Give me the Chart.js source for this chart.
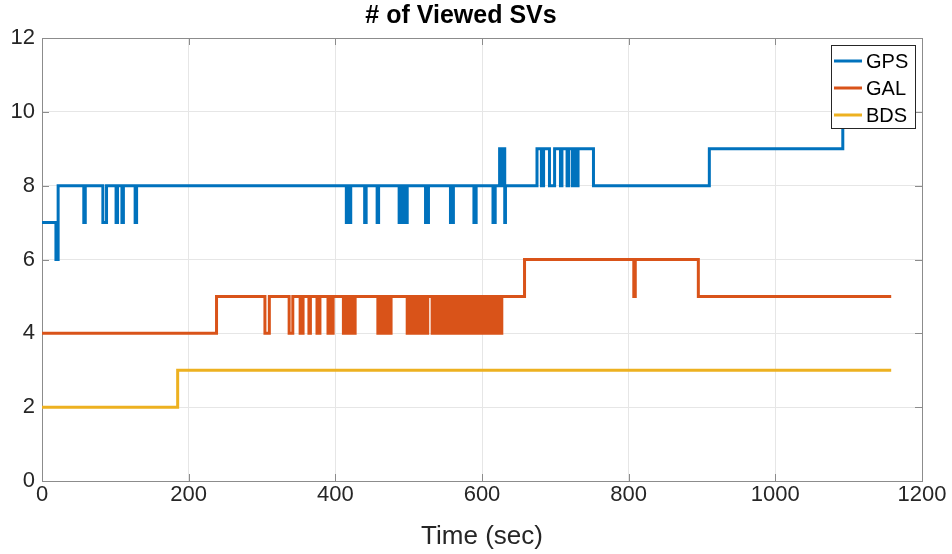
<!DOCTYPE html>
<html>
<head>
<meta charset="utf-8">
<script src="https://cdn.jsdelivr.net/npm/chart.js@4.4.1/dist/chart.umd.min.js"></script>
<style>
  html, body { margin: 0; padding: 0; background: #ffffff; }
  #wrap { width: 952px; height: 554px; position: relative; }
</style>
</head>
<body>
<div id="wrap"><canvas id="chart"></canvas></div>
<script>
// Satellite counts per constellation, stored as change points:
// each entry is the time (sec) at which the count switches to the paired value.
const seriesNames = ['GPS', 'GAL', 'BDS'];
const seriesColors = ['#0072BD', '#D95319', '#EDB120'];

const gpsTimes = [0, 19, 22, 57, 59, 83, 88, 101, 103, 109, 111, 127, 129,
  415, 417, 419, 421, 440, 442, 457, 459, 487, 489, 491, 493, 495, 498,
  523, 524, 526, 527, 557, 558, 560, 561, 589, 590, 591, 592, 615, 616, 617, 618,
  624, 626, 629, 631, 632,
  675, 681, 684, 692, 699, 707, 709, 716, 718, 723, 725, 729, 731, 752,
  910, 1092, 1158];
const gpsCounts = [7, 6, 8, 7, 8, 7, 8, 7, 8, 7, 8, 7, 8,
  7, 8, 7, 8, 7, 8, 7, 8, 7, 8, 7, 8, 7, 8,
  7, 8, 7, 8, 7, 8, 7, 8, 7, 8, 7, 8, 7, 8, 7, 8,
  9, 8, 9, 7, 8,
  9, 8, 9, 8, 9, 8, 9, 8, 9, 8, 9, 8, 9, 8,
  9, 10, 10];

const galTimes = [0, 238, 304, 310, 337, 342, 352, 356, 364, 366, 375, 379,
  390, 393, 395, 397, 411, 415, 418, 421, 424, 427,
  458, 462, 464, 466, 469, 472, 474, 476,
  498, 501, 504, 507, 510, 512, 516, 519, 523, 526,
  532, 535, 537, 539, 543, 546, 548, 550,
  553, 557, 560, 563, 567, 570, 573, 575, 579, 583, 586, 589, 592, 595,
  598, 601, 604, 607, 610, 613, 616, 619, 621, 623, 625, 627,
  658, 807, 809, 895, 1158];
const galCounts = [4, 5, 4, 5, 4, 5, 4, 5, 4, 5, 4, 5,
  4, 5, 4, 5, 4, 5, 4, 5, 4, 5,
  4, 5, 4, 5, 4, 5, 4, 5,
  4, 5, 4, 5, 4, 5, 4, 5, 4, 5,
  4, 5, 4, 5, 4, 5, 4, 5,
  4, 5, 4, 5, 4, 5, 4, 5, 4, 5, 4, 5, 4, 5,
  4, 5, 4, 5, 4, 5, 4, 5, 4, 5, 4, 5,
  6, 5, 6, 5, 5];

const bdsTimes = [0, 185, 1158];
const bdsCounts = [2, 3, 3];

const xTicks = [0, 200, 400, 600, 800, 1000, 1200];
const yTicks = [0, 2, 4, 6, 8, 10, 12];

const FONT = "'Liberation Sans', Arial, Helvetica, sans-serif";
const AXIS_COLOR = '#262626';
const FRAME_COLOR = '#8c8c8c';

function toPoints(times, counts) {
  return times.map((t, i) => ({ x: t, y: counts[i] }));
}

const seriesData = [
  toPoints(gpsTimes, gpsCounts),
  toPoints(galTimes, galCounts),
  toPoints(bdsTimes, bdsCounts)
];

// White page background
const whiteBackground = {
  id: 'whiteBackground',
  beforeDraw(chart) {
    const ctx = chart.ctx;
    ctx.save();
    ctx.fillStyle = '#ffffff';
    ctx.fillRect(0, 0, chart.width, chart.height);
    ctx.restore();
  }
};

// Box outline with inward tick marks on all four sides
const axesBox = {
  id: 'axesBox',
  beforeDatasetsDraw(chart) {
    const { ctx, chartArea: a, scales } = chart;
    const len = 7;
    ctx.save();
    ctx.strokeStyle = FRAME_COLOR;
    ctx.lineWidth = 1;
    ctx.strokeRect(Math.round(a.left) + 0.5, Math.round(a.top) + 0.5,
      Math.round(a.right - a.left), Math.round(a.bottom - a.top));
    ctx.beginPath();
    xTicks.forEach(v => {
      const px = Math.round(scales.x.getPixelForValue(v)) + 0.5;
      ctx.moveTo(px, a.bottom); ctx.lineTo(px, a.bottom - len);
      ctx.moveTo(px, a.top); ctx.lineTo(px, a.top + len);
    });
    yTicks.forEach(v => {
      const py = Math.round(scales.y.getPixelForValue(v)) + 0.5;
      ctx.moveTo(a.left, py); ctx.lineTo(a.left + len, py);
      ctx.moveTo(a.right, py); ctx.lineTo(a.right - len, py);
    });
    ctx.stroke();
    ctx.restore();
  }
};

// Legend drawn inside the plot, top-right corner, over the data
const insideLegend = {
  id: 'insideLegend',
  afterDatasetsDraw(chart) {
    const { ctx, chartArea: a } = chart;
    const w = 84, h = 83;
    const x = a.right - 7 - w, y = a.top + 7;
    ctx.save();
    ctx.fillStyle = '#ffffff';
    ctx.fillRect(x, y, w, h);
    ctx.strokeStyle = '#262626';
    ctx.lineWidth = 1;
    ctx.strokeRect(Math.round(x) + 0.5, Math.round(y) + 0.5, w, h);
    ctx.font = '20px ' + FONT;
    ctx.textBaseline = 'middle';
    ctx.textAlign = 'left';
    seriesNames.forEach((name, i) => {
      const cy = y + 16 + i * 27;
      ctx.strokeStyle = seriesColors[i];
      ctx.lineWidth = 3;
      ctx.beginPath();
      ctx.moveTo(x + 3, cy);
      ctx.lineTo(x + 31, cy);
      ctx.stroke();
      ctx.fillStyle = '#000000';
      ctx.fillText(name, x + 35, cy + 1);
    });
    ctx.restore();
  }
};

new Chart(document.getElementById('chart'), {
  type: 'line',
  data: {
    datasets: seriesNames.map((name, i) => ({
      label: name,
      data: seriesData[i],
      borderColor: seriesColors[i],
      backgroundColor: seriesColors[i],
      borderWidth: 3,
      pointRadius: 0,
      stepped: true,
      fill: false
    }))
  },
  options: {
    responsive: true,
    maintainAspectRatio: false,
    animation: false,
    events: [],
    layout: { padding: { left: 0, right: 30, top: 0, bottom: 0 } },
    plugins: {
      legend: { display: false },
      tooltip: { enabled: false },
      title: {
        display: true,
        text: '# of Viewed SVs',
        color: '#000000',
        font: { family: FONT, size: 25, weight: 'bold', lineHeight: 1.2 },
        padding: { top: 1, bottom: 7 }
      }
    },
    scales: {
      x: {
        type: 'linear',
        min: 0,
        max: 1200,
        afterBuildTicks: s => { s.ticks = xTicks.map(v => ({ value: v })); },
        afterFit: s => { s.height = 73; },
        grid: { color: '#e6e6e6', drawTicks: false },
        border: { display: false },
        ticks: {
          color: AXIS_COLOR,
          padding: 1,
          maxRotation: 0,
          font: { family: FONT, size: 22 },
          callback: v => String(v)
        },
        title: {
          display: true,
          text: 'Time (sec)',
          color: AXIS_COLOR,
          font: { family: FONT, size: 26 },
          padding: { top: 0, bottom: 2 }
        }
      },
      y: {
        type: 'linear',
        min: 0,
        max: 12,
        afterBuildTicks: s => { s.ticks = yTicks.map(v => ({ value: v })); },
        afterFit: s => { s.width = 42; },
        grid: { color: '#e6e6e6', drawTicks: false },
        border: { display: false },
        ticks: {
          color: AXIS_COLOR,
          padding: 7,
          font: { family: FONT, size: 22 },
          callback: v => String(v)
        }
      }
    }
  },
  plugins: [whiteBackground, axesBox, insideLegend]
});
</script>
</body>
</html>
